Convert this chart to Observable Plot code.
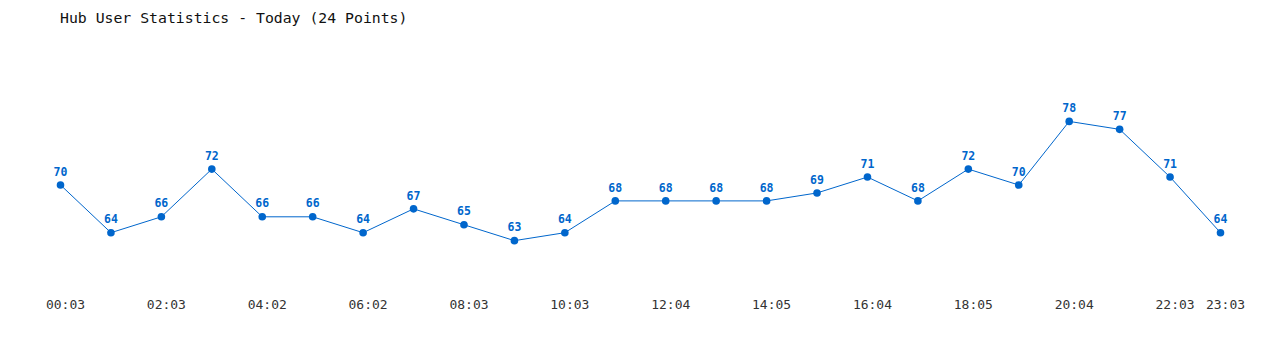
<!DOCTYPE html>
<html>
<head>
<meta charset="utf-8">
<script src="https://cdn.jsdelivr.net/npm/d3@7"></script>
<script src="https://cdn.jsdelivr.net/npm/@observablehq/plot@0.6"></script>
<style>
  body { margin: 0; background: #fff; }
  #title { height: 30px; padding-left: 60px; font-family: "DejaVu Sans Mono", monospace; font-size: 14.8px; line-height: 36px; color: #111; white-space: pre; }
  #chart svg { display: block; }
</style>
</head>
<body>
<div id="title">Hub User Statistics - Today (24 Points)</div>
<div id="chart"></div>
<script>
const times = ["00:03","01:03","02:03","03:03","04:02","05:02","06:02","07:02","08:03","09:03","10:03","11:03",
               "12:04","13:04","14:05","15:04","16:04","17:04","18:05","19:04","20:04","21:04","22:03","23:03"];
const users = [70,64,66,72,66,66,64,67,65,63,64,68,68,68,68,69,71,68,72,70,78,77,71,64];
const tickLabels = ["00:03","02:03","04:02","06:02","08:03","10:03","12:04","14:05","16:04","18:05","20:04","22:03","23:03"];

const data = times.map((t, i) => ({time: t, users: users[i]}));
const blue = "#0066cc";

const chart = Plot.plot({
  width: 1280,
  height: 320,
  marginLeft: 60,
  marginRight: 60,
  marginTop: 75,
  marginBottom: 86,
  style: {fontFamily: "DejaVu Sans Mono, monospace", background: "#fff"},
  x: {type: "point", domain: times, padding: 0, round: false},
  y: {domain: [60, 80], axis: null},
  marks: [
    Plot.axisX({ticks: tickLabels, tickSize: 0, tickPadding: 35, dx: 5, fontSize: 13, fill: "#333", label: null}),
    Plot.line(data, {x: "time", y: "users", stroke: blue, strokeWidth: 1}),
    Plot.dot(data, {x: "time", y: "users", fill: blue, r: 3.8}),
    Plot.text(data, {x: "time", y: "users", text: d => String(d.users), dy: -13, fill: blue, fontWeight: "bold", fontSize: 11.5})
  ]
});
document.getElementById("chart").appendChild(chart);
</script>
</body>
</html>
